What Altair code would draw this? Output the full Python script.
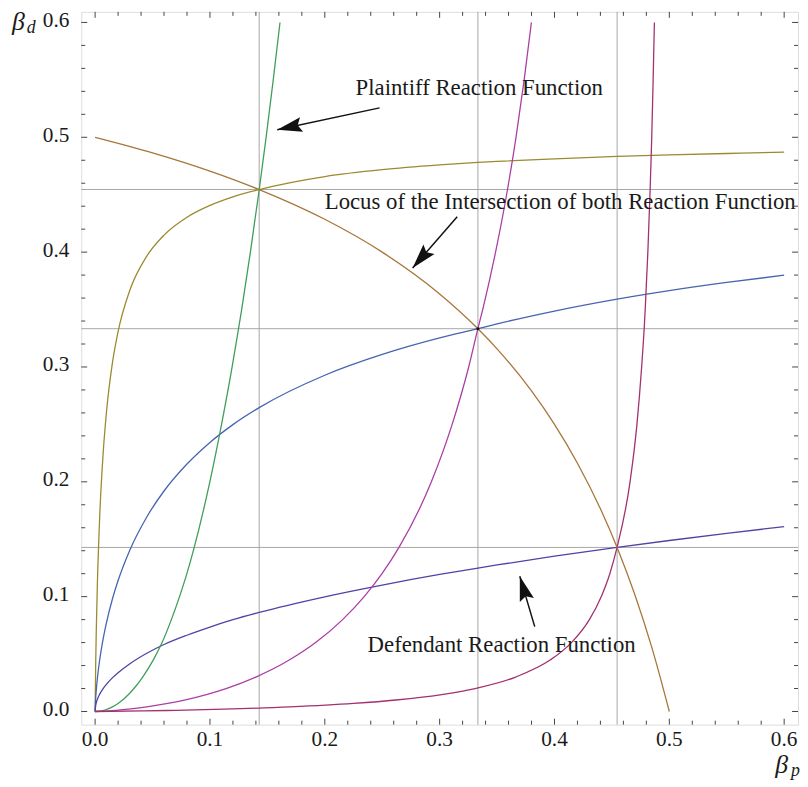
import math
import altair as alt
import pandas as pd

# ---------------- data ----------------
# defendant reaction functions: beta_d as a function of beta_p
D_X = [0, 0.0005, 0.001, 0.002, 0.004, 0.007, 0.01, 0.015, 0.02, 0.03, 0.045, 0.06,
       0.08, 0.1, 0.12, 0.142857, 0.2, 0.25, 0.3, 0.333333, 0.35, 0.4, 0.454545,
       0.5, 0.55, 0.6]
OLIVE_Y = [0, 0.0419, 0.0700, 0.1122, 0.1699, 0.2250, 0.2619, 0.3031, 0.3308, 0.3662,
           0.3965, 0.4148, 0.4304, 0.4407, 0.4482, 0.4545, 0.4658, 0.4718, 0.4759,
           0.4781, 0.4790, 0.4813, 0.4833, 0.4847, 0.4859, 0.4870]
BLUE_Y = [0, 0.0117, 0.0185, 0.0291, 0.0450, 0.0632, 0.0778, 0.0977, 0.1140, 0.1400,
          0.1694, 0.1920, 0.2155, 0.2343, 0.2498, 0.2646, 0.2928, 0.3109, 0.3253,
          0.3333, 0.3375, 0.3487, 0.3591, 0.3665, 0.3736, 0.3799]
INDIGO_Y = [0, 0.0053, 0.0076, 0.0107, 0.0151, 0.0200, 0.0239, 0.0293, 0.0338, 0.0414,
            0.0507, 0.0583, 0.0664, 0.0735, 0.0799, 0.0863, 0.0999, 0.1101, 0.1193,
            0.1249, 0.1276, 0.1352, 0.1429, 0.1489, 0.1551, 0.1610]

# plaintiff reaction functions: beta_p as a function of beta_d
P_Y = [0, 0.0005, 0.001, 0.002, 0.004, 0.007, 0.01, 0.015, 0.02, 0.03, 0.045, 0.06,
       0.08, 0.1, 0.12, 0.142857, 0.2, 0.25, 0.3, 0.333333, 0.35, 0.4, 0.454545,
       0.5, 0.55, 0.6]
GREEN_X = [0, 0.0053, 0.0076, 0.0107, 0.0151, 0.0200, 0.0239, 0.0293, 0.0338, 0.0414,
           0.0507, 0.0583, 0.0664, 0.0735, 0.0799, 0.0863, 0.0999, 0.1101, 0.1193,
           0.1249, 0.1276, 0.1352, 0.1429, 0.1489, 0.1551, 0.1610]
MAGENTA_X = [0, 0.0117, 0.0185, 0.0291, 0.0450, 0.0632, 0.0778, 0.0977, 0.1140, 0.1400,
             0.1694, 0.1920, 0.2155, 0.2343, 0.2498, 0.2646, 0.2928, 0.3109, 0.3253,
             0.3333, 0.3375, 0.3487, 0.3591, 0.3665, 0.3736, 0.3799]
PURPLE_X = [0, 0.0419, 0.0700, 0.1122, 0.1699, 0.2250, 0.2619, 0.3031, 0.3308, 0.3662,
            0.3965, 0.4148, 0.4304, 0.4407, 0.4482, 0.4545, 0.4658, 0.4718, 0.4759,
            0.4781, 0.4790, 0.4813, 0.4833, 0.4847, 0.4859, 0.4870]

# locus of the intersections
LOCUS_X = [0, 0.05, 0.1, 0.142857, 0.2, 0.25, 0.3, 0.333333, 0.35, 0.38, 0.4, 0.42,
           0.44, 0.454545, 0.47, 0.485, 0.5]
LOCUS_Y = [0.5, 0.4865, 0.4706, 0.4545, 0.4286, 0.4, 0.3636, 0.3333, 0.3158, 0.2791,
           0.25, 0.2162, 0.1765, 0.1429, 0.1017, 0.0550, 0]

EQ_LINES = [0.142857, 0.333333, 0.454545]
EQ_POINT = [0.333333, 0.333333]

MAJOR_TICKS = [0.0, 0.1, 0.2, 0.3, 0.4, 0.5, 0.6]
TICK_LABELS = ["0.0", "0.1", "0.2", "0.3", "0.4", "0.5", "0.6"]
MINOR_TICKS = [0.02, 0.04, 0.06, 0.08, 0.12, 0.14, 0.16, 0.18, 0.22, 0.24, 0.26, 0.28,
               0.32, 0.34, 0.36, 0.38, 0.42, 0.44, 0.46, 0.48, 0.52, 0.54, 0.56, 0.58]

ANNOT_TEXT = ["Plaintiff Reaction Function",
              "Locus of the Intersection of both Reaction Function",
              "Defendant Reaction Function"]
ANNOT_X = [0.3345, 0.4050, 0.3540]
ANNOT_Y = [0.5366, 0.4379, 0.0515]

ARROW_TAIL_X = [0.2477, 0.3153, 0.3828]
ARROW_TAIL_Y = [0.5256, 0.4308, 0.0739]
ARROW_TIP_X = [0.1586, 0.2765, 0.3698]
ARROW_TIP_Y = [0.5066, 0.3862, 0.1178]

CURVE_NAMES = ["olive", "blue", "indigo", "green", "magenta", "purple", "locus"]
CURVE_COLORS = ["#9b8a2e", "#4764b0", "#4f43a6", "#3e9e5a", "#ab3ea6", "#a3306f", "#a8753b"]

# ---------------- layout ----------------
W, H = 724, 720
FONT = "Liberation Serif"
TICK_COLOR = "#444444"
TEXT_COLOR = "#1a1a1a"
x_scale = alt.Scale(domain=[-0.012069, 0.612069], nice=False, zero=False)
y_scale = alt.Scale(domain=[-0.011466, 0.609224], nice=False, zero=False)

rows = []
for name, ys in [("olive", OLIVE_Y), ("blue", BLUE_Y), ("indigo", INDIGO_Y)]:
    for i, (xv, yv) in enumerate(zip(D_X, ys)):
        rows.append({"x": xv, "y": yv, "curve": name, "i": i})
for name, xs in [("green", GREEN_X), ("magenta", MAGENTA_X), ("purple", PURPLE_X)]:
    for i, (xv, yv) in enumerate(zip(xs, P_Y)):
        rows.append({"x": xv, "y": yv, "curve": name, "i": i})
for i, (xv, yv) in enumerate(zip(LOCUS_X, LOCUS_Y)):
    rows.append({"x": xv, "y": yv, "curve": "locus", "i": i})
curves_df = pd.DataFrame(rows)

eq_df = pd.DataFrame({"v": EQ_LINES})
major_df = pd.DataFrame({"v": MAJOR_TICKS, "label": TICK_LABELS})
minor_df = pd.DataFrame({"v": MINOR_TICKS})
annot_df = pd.DataFrame({"x": ANNOT_X, "y": ANNOT_Y, "label": ANNOT_TEXT})
arrow_df = pd.DataFrame({"x": ARROW_TAIL_X, "y": ARROW_TAIL_Y,
                         "x2": ARROW_TIP_X, "y2": ARROW_TIP_Y})
arrow_df["angle"] = [
    math.degrees(math.atan2(tx - sx, ty - sy)) % 360
    for sx, sy, tx, ty in zip(ARROW_TAIL_X, ARROW_TAIL_Y, ARROW_TIP_X, ARROW_TIP_Y)
]
dot_df = pd.DataFrame({"x": [EQ_POINT[0]], "y": [EQ_POINT[1]]})

vgrid = alt.Chart(eq_df).mark_rule(color="#a6a6a6", strokeWidth=1).encode(
    x=alt.X("v:Q", scale=x_scale, axis=None))
hgrid = alt.Chart(eq_df).mark_rule(color="#a6a6a6", strokeWidth=1).encode(
    y=alt.Y("v:Q", scale=y_scale, axis=None))

curves = alt.Chart(curves_df).mark_line(strokeWidth=1.3, interpolate="monotone", clip=True).encode(
    x=alt.X("x:Q", scale=x_scale, axis=None),
    y=alt.Y("y:Q", scale=y_scale, axis=None),
    color=alt.Color("curve:N", scale=alt.Scale(domain=CURVE_NAMES, range=CURVE_COLORS), legend=None),
    order=alt.Order("i:Q"),
)

dot = alt.Chart(dot_df).mark_point(filled=True, color="#111111", size=10, opacity=1).encode(
    x=alt.X("x:Q", scale=x_scale, axis=None), y=alt.Y("y:Q", scale=y_scale, axis=None))

arrow_lines = alt.Chart(arrow_df).mark_rule(color="#111111", strokeWidth=1.5).encode(
    x=alt.X("x:Q", scale=x_scale, axis=None), y=alt.Y("y:Q", scale=y_scale, axis=None),
    x2="x2:Q", y2="y2:Q")
arrow_heads = alt.Chart(arrow_df).mark_point(
    shape="M0,0L0.65,2.2L0,1.85L-0.65,2.2Z", filled=True, color="#111111", size=520, opacity=1
).encode(
    x=alt.X("x2:Q", scale=x_scale, axis=None), y=alt.Y("y2:Q", scale=y_scale, axis=None),
    angle=alt.Angle("angle:Q", scale=None))

annots = alt.Chart(annot_df).mark_text(font=FONT, fontSize=23, color=TEXT_COLOR,
                                       align="center", baseline="alphabetic").encode(
    x=alt.X("x:Q", scale=x_scale, axis=None), y=alt.Y("y:Q", scale=y_scale, axis=None),
    text="label:N")

# tick labels (frame labels on bottom and left)
xlabels = alt.Chart(major_df).mark_text(font=FONT, fontSize=21.5, color=TEXT_COLOR,
                                        align="center", baseline="alphabetic").encode(
    x=alt.X("v:Q", scale=x_scale, axis=None), y=alt.value(741.5), text="label:N")
ylabels = alt.Chart(major_df).mark_text(font=FONT, fontSize=21.5, color=TEXT_COLOR,
                                        align="right", baseline="alphabetic", dy=4.5).encode(
    y=alt.Y("v:Q", scale=y_scale, axis=None), x=alt.value(-12), text="label:N")


def xticks(df, length):
    bottom = alt.Chart(df).mark_rule(color=TICK_COLOR, strokeWidth=1).encode(
        x=alt.X("v:Q", scale=x_scale, axis=None), y=alt.value(H), y2=alt.value(H - length))
    top = alt.Chart(df).mark_rule(color=TICK_COLOR, strokeWidth=1).encode(
        x=alt.X("v:Q", scale=x_scale, axis=None), y=alt.value(0), y2=alt.value(length))
    return [bottom, top]


def yticks(df, length):
    left = alt.Chart(df).mark_rule(color=TICK_COLOR, strokeWidth=1).encode(
        y=alt.Y("v:Q", scale=y_scale, axis=None), x=alt.value(0), x2=alt.value(length))
    right = alt.Chart(df).mark_rule(color=TICK_COLOR, strokeWidth=1).encode(
        y=alt.Y("v:Q", scale=y_scale, axis=None), x=alt.value(W), x2=alt.value(W - length))
    return [left, right]


title_df = pd.DataFrame({"t": ["β"]})
sub_d = pd.DataFrame({"t": ["d"]})
sub_p = pd.DataFrame({"t": ["p"]})
beta_left = alt.Chart(title_df).mark_text(font=FONT, fontSize=26, fontStyle="italic", color=TEXT_COLOR,
                                          align="left", baseline="alphabetic").encode(
    x=alt.value(-70), y=alt.value(18), text="t:N")
d_left = alt.Chart(sub_d).mark_text(font=FONT, fontSize=18, fontStyle="italic", color=TEXT_COLOR,
                                    align="left", baseline="alphabetic").encode(
    x=alt.value(-55), y=alt.value(21), text="t:N")
beta_bottom = alt.Chart(title_df).mark_text(font=FONT, fontSize=26, fontStyle="italic", color=TEXT_COLOR,
                                            align="left", baseline="alphabetic").encode(
    x=alt.value(701), y=alt.value(769), text="t:N")
p_bottom = alt.Chart(sub_p).mark_text(font=FONT, fontSize=18, fontStyle="italic", color=TEXT_COLOR,
                                      align="left", baseline="alphabetic").encode(
    x=alt.value(717), y=alt.value(772), text="t:N")

layers = [vgrid, hgrid, curves, dot, arrow_lines, arrow_heads, annots, xlabels, ylabels]
layers += xticks(major_df, 6) + xticks(minor_df, 4) + yticks(major_df, 6) + yticks(minor_df, 4)
layers += [beta_left, d_left, beta_bottom, p_bottom]

chart = alt.layer(*layers).properties(
    width=W, height=H,
    autosize=alt.AutoSizeParams(type="none"),
    padding={"left": 74, "top": 0, "right": 2, "bottom": 52},
).configure_view(stroke="#505050", strokeWidth=1.3).configure(background="white")

chart.save("out.html", embed_options={"renderer": "svg", "actions": False})
